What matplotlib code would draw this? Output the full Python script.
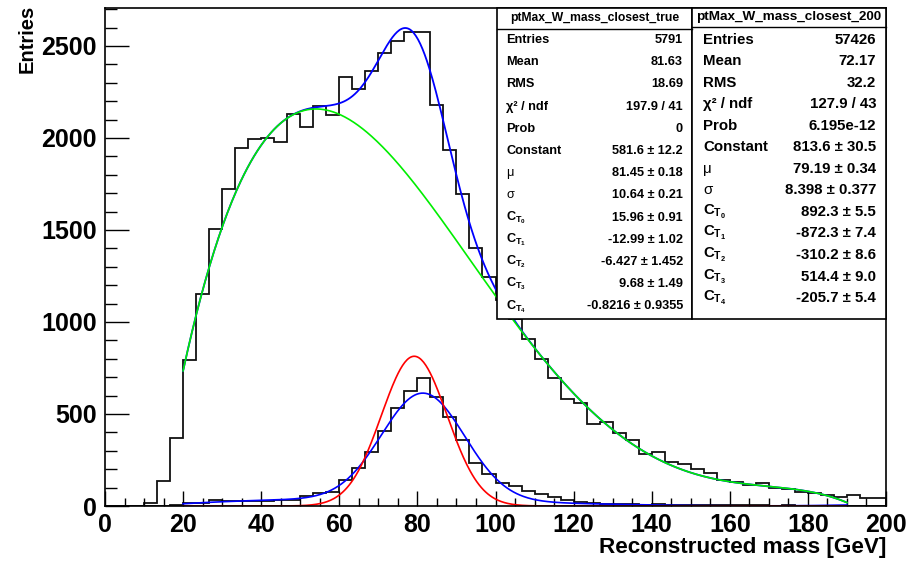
import numpy as np
import matplotlib
matplotlib.use("Agg")
import matplotlib.pyplot as plt
from matplotlib.patches import Rectangle
from matplotlib.lines import Line2D

plt.rcParams['font.family'] = ['Liberation Sans', 'DejaVu Sans']
plt.rcParams['mathtext.fontset'] = 'custom'
plt.rcParams['mathtext.rm'] = 'Liberation Sans'
plt.rcParams['mathtext.bf'] = 'Liberation Sans:bold'
plt.rcParams['mathtext.it'] = 'Liberation Sans:italic'

# ---------------- data ----------------
bin_edges = np.linspace(0, 200, 61)

counts_200 = [0, 0, 0, 18, 136, 368, 792, 1152, 1505, 1723, 1944, 1993, 2002, 1978,
              2129, 2058, 2174, 2123, 2333, 2264, 2364, 2462, 2527, 2574, 2578, 2179,
              1935, 1694, 1400, 1246, 1120, 1015, 906, 800, 694, 581, 561, 446, 458,
              398, 359, 283, 292, 241, 226, 199, 181, 141, 132, 114, 123, 96, 91, 78,
              69, 60, 51, 60, 42, 42]

counts_true = [0, 0, 0, 0, 0, 8, 18, 18, 30, 28, 26, 25, 28, 30, 33, 54, 69, 75, 141,
               208, 295, 406, 535, 623, 695, 594, 485, 359, 235, 174, 125, 107, 80, 64,
               49, 33, 24, 16, 13, 12, 10, 8, 9, 6, 5, 6, 4, 5, 3, 4, 3, 2, 3, 2, 2, 1,
               2, 1, 1, 1]

fit_range = [20, 190]
# gaus(Constant, mu, sigma) + cheb4(C_T0..C_T4)
gaus_200 = [813.6, 79.19, 8.398]
cheb_200 = [892.3, -872.3, -310.2, 514.4, -205.7]
gaus_true = [581.6, 81.45, 10.64]
cheb_true = [15.96, -12.99, -6.427, 9.68, -0.8216]

x_ticks = [0, 20, 40, 60, 80, 100, 120, 140, 160, 180, 200]
y_ticks = [0, 500, 1000, 1500, 2000, 2500]

stat_labels = ['Entries', 'Mean', 'RMS', 'χ² / ndf', 'Prob', 'Constant', 'μ', 'σ',
               r'$\mathbf{C}_{\mathbf{T}_{\mathbf{0}}}$', r'$\mathbf{C}_{\mathbf{T}_{\mathbf{1}}}$',
               r'$\mathbf{C}_{\mathbf{T}_{\mathbf{2}}}$', r'$\mathbf{C}_{\mathbf{T}_{\mathbf{3}}}$',
               r'$\mathbf{C}_{\mathbf{T}_{\mathbf{4}}}$']
box_true_title = 'ptMax_W_mass_closest_true'
box_true_values = ['5791', '81.63', '18.69', '197.9 / 41', '0', '581.6 ± 12.2',
                   '81.45 ± 0.18', '10.64 ± 0.21', '15.96 ± 0.91', '-12.99 ± 1.02',
                   '-6.427 ± 1.452', '9.68 ± 1.49', '-0.8216 ± 0.9355']
box_200_title = 'ptMax_W_mass_closest_200'
box_200_values = ['57426', '72.17', '32.2', '127.9 / 43', '6.195e-12', '813.6 ± 30.5',
                  '79.19 ± 0.34', '8.398 ± 0.377', '892.3 ± 5.5', '-872.3 ± 7.4',
                  '-310.2 ± 8.6', '514.4 ± 9.0', '-205.7 ± 5.4']


def gaus(x, p):
    return p[0] * np.exp(-0.5 * ((x - p[1]) / p[2]) ** 2)


def cheb(x, c, lo, hi):
    t = (2 * x - lo - hi) / (hi - lo)
    return np.polynomial.chebyshev.chebval(t, c)


# ---------------- figure ----------------
W, H = 923, 561
fig = plt.figure(figsize=(W / 100, H / 100), dpi=100)


def fx(px):
    return px / W


def fy(py):
    return 1 - py / H


ax = fig.add_axes([fx(105), fy(506), (886 - 105) / W, (506 - 8) / H])
ax.set_xlim(0, 200)
ax.set_ylim(0, 2706)

ax.stairs(counts_200, bin_edges, color='#111111', lw=1.3, baseline=0)
ax.stairs(counts_true, bin_edges, color='#111111', lw=1.3, baseline=0)

xf = np.linspace(fit_range[0], fit_range[1], 600)
ax.plot(xf, gaus(xf, gaus_200) + cheb(xf, cheb_200, *fit_range), color='#0000ff', lw=1.3)
ax.plot(xf, cheb(xf, cheb_200, *fit_range), color='#00ee00', lw=1.2)
ax.plot(xf, gaus(xf, gaus_true) + cheb(xf, cheb_true, *fit_range), color='#0000ff', lw=1.2)
ax.plot(xf, gaus(xf, gaus_200), color='#ff0000', lw=1.2)

ax.set_xticks(x_ticks)
ax.set_yticks(y_ticks)
ax.set_xticks(np.arange(0, 201, 5), minor=True)
ax.set_yticks(np.arange(0, 2701, 100), minor=True)
ax.tick_params(axis='x', which='major', direction='in', length=11, width=1.0, pad=5,
               labelsize=18, top=False)
ax.tick_params(axis='x', which='minor', direction='in', length=5.5, width=1.0, top=False)
ax.tick_params(axis='y', which='major', direction='in', length=17, width=1.0, pad=6,
               labelsize=18, right=False)
ax.tick_params(axis='y', which='minor', direction='in', length=8.5, width=1.0, right=False)
for lab in ax.get_xticklabels() + ax.get_yticklabels():
    lab.set_fontweight('bold')
for s in ax.spines.values():
    s.set_linewidth(1.2)

fig.text(fx(27), fy(5), 'Entries', rotation=90, ha='center', va='top',
         fontsize=14.5, fontweight='bold')
fig.text(fx(886), fy(553), 'Reconstructed mass [GeV]', ha='right', va='baseline',
         fontsize=16.2, fontweight='bold')


# ---------------- stats boxes ----------------
def stats_box(x0, x1, y0, y1, ysep, title, title_y, title_fs, values, fs,
              lab_x, val_x, row0, dy):
    fig.patches.append(Rectangle((fx(x0), fy(y1)), (x1 - x0) / W, (y1 - y0) / H,
                                 transform=fig.transFigure, facecolor='white',
                                 edgecolor='black', lw=1.2, zorder=5))
    fig.lines.append(Line2D([fx(x0), fx(x1)], [fy(ysep), fy(ysep)],
                            transform=fig.transFigure, color='black', lw=1.0, zorder=6))
    fig.text(fx((x0 + x1) / 2), fy(title_y), title, ha='center', va='center',
             fontsize=title_fs, fontweight='bold', zorder=7)
    for i, (lab, val) in enumerate(zip(stat_labels, values)):
        yy = fy(row0 + dy * i)
        w = 'normal' if lab in ('μ', 'σ') else 'bold'
        fig.text(fx(lab_x), yy, lab, ha='left', va='center', fontsize=fs,
                 fontweight=w, zorder=7)
        fig.text(fx(val_x), yy, val, ha='right', va='center', fontsize=fs,
                 fontweight='bold', zorder=7)


stats_box(497, 692, 8, 319, 29, box_true_title, 18, 8.7, box_true_values, 9.2,
          506, 683, 40, 22.2)
stats_box(692, 886, 8, 319, 27, box_200_title, 17, 9.7, box_200_values, 10.8,
          703, 876, 39.5, 21.55)

fig.savefig('out.png', dpi=100)
